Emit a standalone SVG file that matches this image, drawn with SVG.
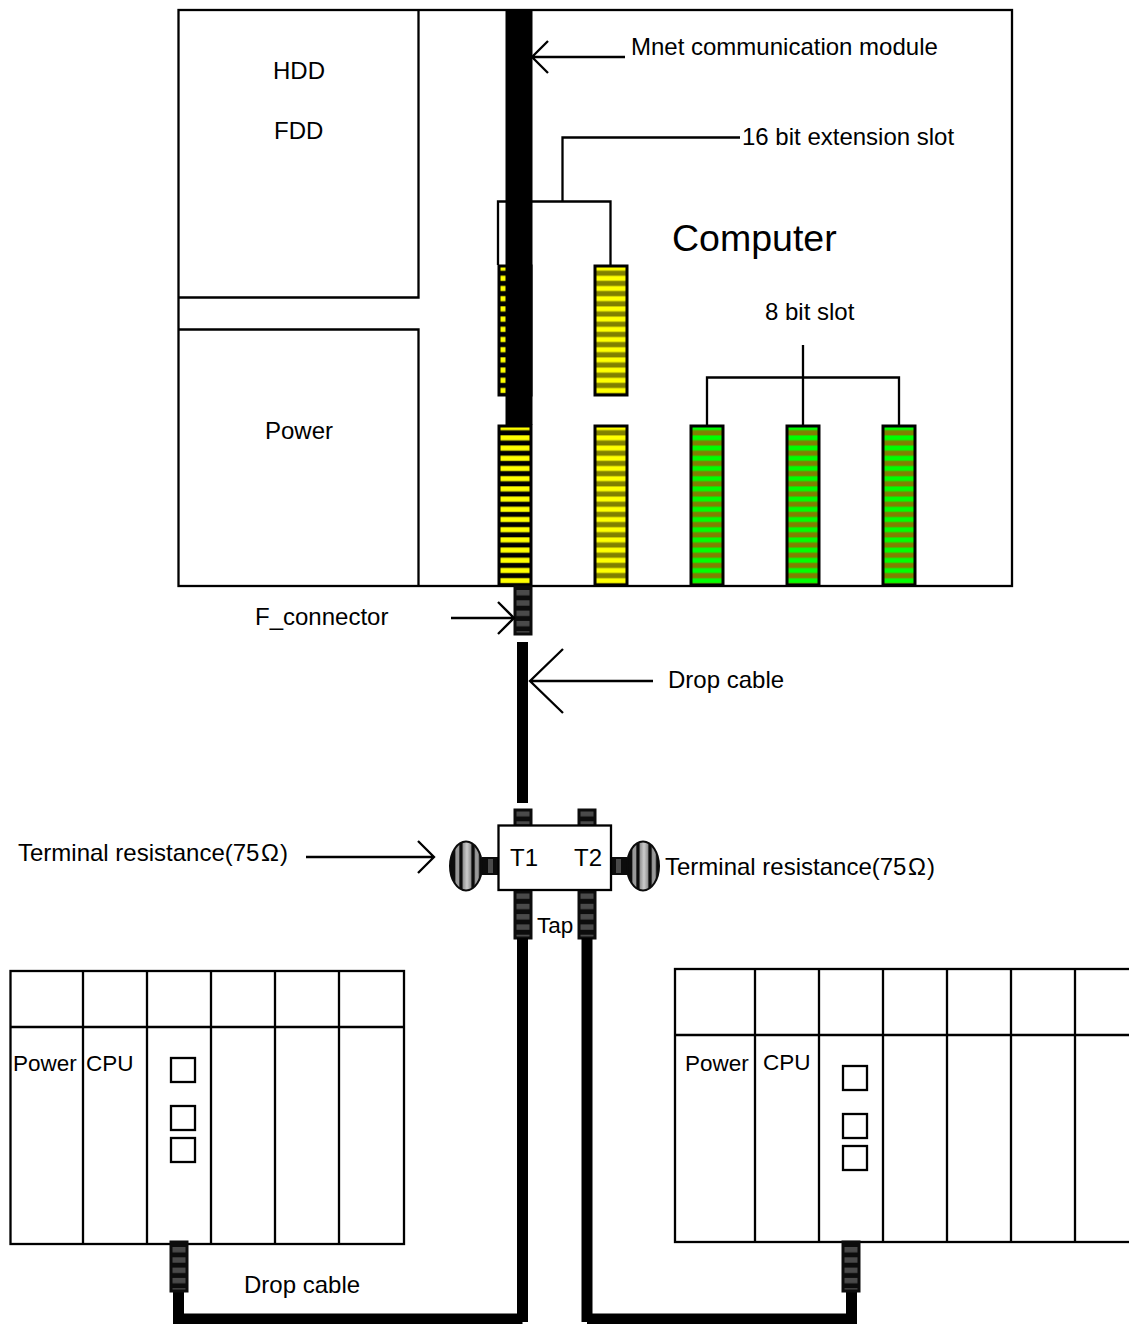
<svg xmlns="http://www.w3.org/2000/svg" width="1129" height="1324" viewBox="0 0 1129 1324">
<defs>
<pattern id="pY" patternUnits="userSpaceOnUse" x="0" y="265.200" width="10" height="10.2"><rect width="10" height="10.2" fill="#808000"/><rect y="0" width="10" height="5.800" fill="#c0c000"/><rect y="0.800" width="10" height="4.200" fill="#ffff00"/></pattern>
<pattern id="pY2" href="#pY" y="424.800"/>
<pattern id="pK" patternUnits="userSpaceOnUse" x="0" y="424.800" width="10" height="10.2"><rect width="10" height="10.2" fill="#000"/><rect y="0" width="10" height="5.800" fill="#808000"/><rect y="0.600" width="10" height="4.600" fill="#ffff00"/></pattern>
<pattern id="pK2" href="#pK" y="265.200"/>
<pattern id="pG" patternUnits="userSpaceOnUse" x="0" y="424.800" width="10" height="10.2"><rect width="10" height="10.2" fill="#808000"/><rect y="0" width="10" height="5.800" fill="#40c000"/><rect y="0.800" width="10" height="4.200" fill="#00ff00"/></pattern>
<pattern id="pC" patternUnits="userSpaceOnUse" x="0" y="590" width="10" height="10.3"><rect width="10" height="10.3" fill="#0c0c0c"/><rect width="10" height="5.400" fill="#4a4a4a"/></pattern>
<pattern id="pC2" href="#pC" y="893.500"/>
<pattern id="pC3" href="#pC" y="1247"/>
<pattern id="pC4" href="#pC" y="811"/>
<linearGradient id="gV">
<stop offset="0" stop-color="#0c0c0c"/><stop offset=".14" stop-color="#0c0c0c"/><stop offset=".19" stop-color="#999"/><stop offset=".27" stop-color="#999"/><stop offset=".31" stop-color="#0c0c0c"/><stop offset=".37" stop-color="#0c0c0c"/><stop offset=".42" stop-color="#999"/><stop offset=".53" stop-color="#ccc"/><stop offset=".64" stop-color="#999"/><stop offset=".69" stop-color="#0c0c0c"/><stop offset=".75" stop-color="#0c0c0c"/><stop offset=".8" stop-color="#999"/><stop offset=".88" stop-color="#999"/><stop offset=".93" stop-color="#0c0c0c"/><stop offset="1" stop-color="#0c0c0c"/>
</linearGradient>
</defs>
<style>
text{font-family:"Liberation Sans",Arial,sans-serif;font-size:24px;fill:#000}
.s{font-size:22.5px}
.ln{fill:none;stroke:#000;stroke-width:2.300}
.bx{fill:#fff;stroke:#000;stroke-width:2.300}
.slot{stroke:#000;stroke-width:3}
.con{stroke:#0c0c0c;stroke-width:3}
.cable{fill:none;stroke:#000;stroke-width:11}
</style>
<g id="computer">
<rect class="bx" x="178.500" y="10" width="833.500" height="576"/>
<path class="ln" d="M178 297.500H418.500V10M178 329.500H418.500V586"/>
<text x="273" y="79">HDD</text>
<text x="274" y="139">FDD</text>
<text x="265" y="439">Power</text>
<text x="672" y="251" style="font-size:37.500px">Computer</text>
</g>
<g id="slots">
<rect class="slot" x="499" y="266" width="32" height="129" fill="url(#pK2)"/>
<rect class="slot" x="595" y="266" width="32" height="129" fill="url(#pY)"/>
<rect class="slot" x="499" y="426" width="32" height="159" fill="url(#pK)"/>
<rect class="slot" x="595" y="426" width="32" height="159" fill="url(#pY2)"/>
<rect class="slot" x="691" y="426" width="32" height="159" fill="url(#pG)"/>
<rect class="slot" x="787" y="426" width="32" height="159" fill="url(#pG)"/>
<rect class="slot" x="883" y="426" width="32" height="159" fill="url(#pG)"/>
</g>
<g id="mnet-module"><rect x="505.500" y="10" width="27" height="415" fill="#000"/></g>
<g id="f-connector"><rect class="con" x="515" y="587" width="16" height="47" fill="url(#pC)"/></g>
<g id="tap">
<rect class="con" x="515" y="810" width="16" height="16" fill="url(#pC4)"/>
<rect class="con" x="579" y="810" width="16" height="16" fill="url(#pC4)"/>
<rect class="con" x="515" y="889" width="16" height="49" fill="url(#pC2)"/>
<rect class="con" x="579" y="889" width="16" height="49" fill="url(#pC2)"/>
<rect x="482" y="857" width="17" height="18" fill="#0c0c0c"/><rect x="488" y="859" width="5" height="14" fill="#4a4a4a"/>
<rect x="611" y="857" width="16" height="18" fill="#0c0c0c"/><rect x="616" y="859" width="5" height="14" fill="#4a4a4a"/>
<rect class="bx" x="498.500" y="825.500" width="112.500" height="64.500"/>
<text x="510" y="866">T1</text>
<text x="574" y="866">T2</text>
<text x="537" y="933" style="font-size:22.500px">Tap</text>
</g>
<g id="terminal-left"><ellipse cx="466" cy="866" rx="16" ry="24.500" fill="url(#gV)" stroke="#0c0c0c" stroke-width="2"/></g>
<g id="terminal-right"><ellipse cx="643" cy="866" rx="16" ry="24.500" fill="url(#gV)" stroke="#0c0c0c" stroke-width="2"/></g>
<g id="plc-left">
<rect class="bx" x="10.500" y="971" width="393.500" height="273"/>
<path class="ln" d="M10 1027H404M83 971V1244M147 971V1244M211 971V1244M275 971V1244M339 971V1244"/>
<rect class="bx" x="171" y="1058" width="24" height="24"/>
<rect class="bx" x="171" y="1106" width="24" height="24"/>
<rect class="bx" x="171" y="1138" width="24" height="24"/>
<text class="s" x="13" y="1071">Power</text>
<text class="s" x="86" y="1071">CPU</text>
</g>
<g id="plc-right">
<rect class="bx" x="675" y="969" width="470" height="273"/>
<path class="ln" d="M675 1035H1129M755 969V1242M819 969V1242M883 969V1242M947 969V1242M1011 969V1242M1075 969V1242"/>
<rect class="bx" x="843" y="1066" width="24" height="24"/>
<rect class="bx" x="843" y="1114" width="24" height="24"/>
<rect class="bx" x="843" y="1146" width="24" height="24"/>
<text class="s" x="685" y="1071">Power</text>
<text class="s" x="763" y="1070">CPU</text>
</g>
<g id="connectors">
<path class="cable" d="M522.500 642V803"/>
<path class="cable" d="M522.500 938V1322"/>
<path class="cable" d="M587 938V1322"/>
<path class="cable" d="M178.500 1290V1319H522.500"/>
<path class="cable" d="M851.500 1290V1319H587"/>
<path class="ln" d="M625 57H532M548 41L532 57L548 73"/>
<path class="ln" d="M498 265V201.500H610.500V265M562.500 201.500V137.500H740"/>
<path class="ln" d="M803 345V425M707 425V377.500H899V425"/>
<path class="ln" d="M451 618H514M498 602L514 618L498 634"/>
<path class="ln" d="M653 681H530M563 649L530 681L563 713"/>
<path class="ln" d="M306 857H434M418 841L434 857L418 873"/>
</g>
<g id="plc-connectors">
<rect class="con" x="171" y="1242" width="16" height="49" fill="url(#pC3)"/>
<rect class="con" x="843" y="1242" width="16" height="49" fill="url(#pC3)"/>
</g>
<g id="labels">
<text x="631" y="55">Mnet communication module</text>
<text x="742" y="145">16 bit extension slot</text>
<text x="765" y="320">8 bit slot</text>
<text x="255" y="625">F_connector</text>
<text x="668" y="688">Drop cable</text>
<text x="18" y="861">Terminal resistance(75<tspan dx="1.500">Ω</tspan><tspan dx="1">)</tspan></text>
<text x="665" y="875">Terminal resistance(75<tspan dx="1.500">Ω</tspan><tspan dx="1">)</tspan></text>
<text x="244" y="1293">Drop cable</text>
</g>
</svg>
